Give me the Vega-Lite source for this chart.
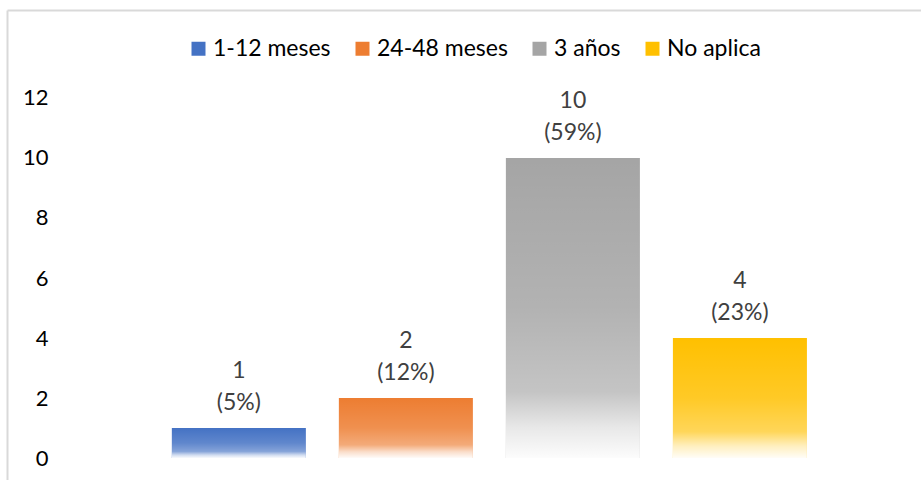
{
  "$schema": "https://vega.github.io/schema/vega-lite/v6.json",
  "width": 914,
  "height": 470,
  "autosize": {"type": "none"},
  "padding": {"left": 7, "top": 10, "right": 0, "bottom": 0},
  "background": "white",
  "config": {"font": "Lato", "view": {"stroke": null}},
  "data": {
    "values": [
      {"cat": "1-12 meses", "n": 1, "label": "1\n(5%)"},
      {"cat": "24-48 meses", "n": 2, "label": "2\n(12%)"},
      {"cat": "3 años", "n": 10, "label": "10\n(59%)"},
      {"cat": "No aplica", "n": 4, "label": "4\n(23%)"}
    ]
  },
  "encoding": {
    "x": {
      "field": "cat",
      "type": "nominal",
      "sort": null,
      "scale": {"paddingInner": 0.1976, "paddingOuter": 0.835, "align": 0.591},
      "axis": {"orient": "top", "labels": false, "ticks": false, "title": null, "domainColor": "#d9d9d9", "domainWidth": 2}
    },
    "y": {
      "field": "n",
      "type": "quantitative",
      "scale": {"domain": [-0.7333, 14.9333], "nice": false, "zero": false},
      "axis": {
        "title": null,
        "values": [0, 2, 4, 6, 8, 10, 12],
        "ticks": false,
        "grid": false,
        "domainColor": "#d9d9d9",
        "domainWidth": 2,
        "labelPadding": -41,
        "labelAlign": "right",
        "labelColor": "#000000",
        "labelFontSize": 22,
        "labelOverlap": false
      }
    }
  },
  "layer": [
    {
      "mark": {"type": "bar"},
      "encoding": {
        "y2": {"datum": 0},
        "color": {
          "field": "cat",
          "type": "nominal",
          "scale": {
            "domain": ["1-12 meses", "24-48 meses", "3 años", "No aplica"],
            "range": ["#4472c4", "#ed7d31", "#a5a5a5", "#ffc000"]
          },
          "legend": {
            "title": null,
            "orient": "none",
            "legendX": 180,
            "legendY": 27,
            "direction": "horizontal",
            "symbolType": "square",
            "symbolSize": 196,
            "symbolStrokeWidth": 0,
            "labelFontSize": 23,
            "labelColor": "#000000",
            "labelOffset": 3,
            "columnPadding": 20,
            "padding": 0
          }
        }
      }
    },
    {
      "mark": {
        "type": "bar",
        "fill": {
          "gradient": "linear",
          "x1": 0, "y1": 0, "x2": 0, "y2": 1,
          "stops": [
            {"offset": 0, "color": "rgba(255,255,255,0)"},
            {"offset": 0.5, "color": "rgba(255,255,255,0.15)"},
            {"offset": 0.78, "color": "rgba(255,255,255,0.35)"},
            {"offset": 0.9, "color": "rgba(255,255,255,0.75)"},
            {"offset": 1, "color": "rgba(255,255,255,0.97)"}
          ]
        }
      },
      "encoding": {"y2": {"datum": 0}}
    },
    {
      "mark": {"type": "text", "baseline": "bottom", "dy": -45, "lineBreak": "\n", "lineHeight": 32, "fontSize": 23, "color": "#404040"},
      "encoding": {"text": {"field": "label", "type": "nominal"}}
    }
  ]
}
